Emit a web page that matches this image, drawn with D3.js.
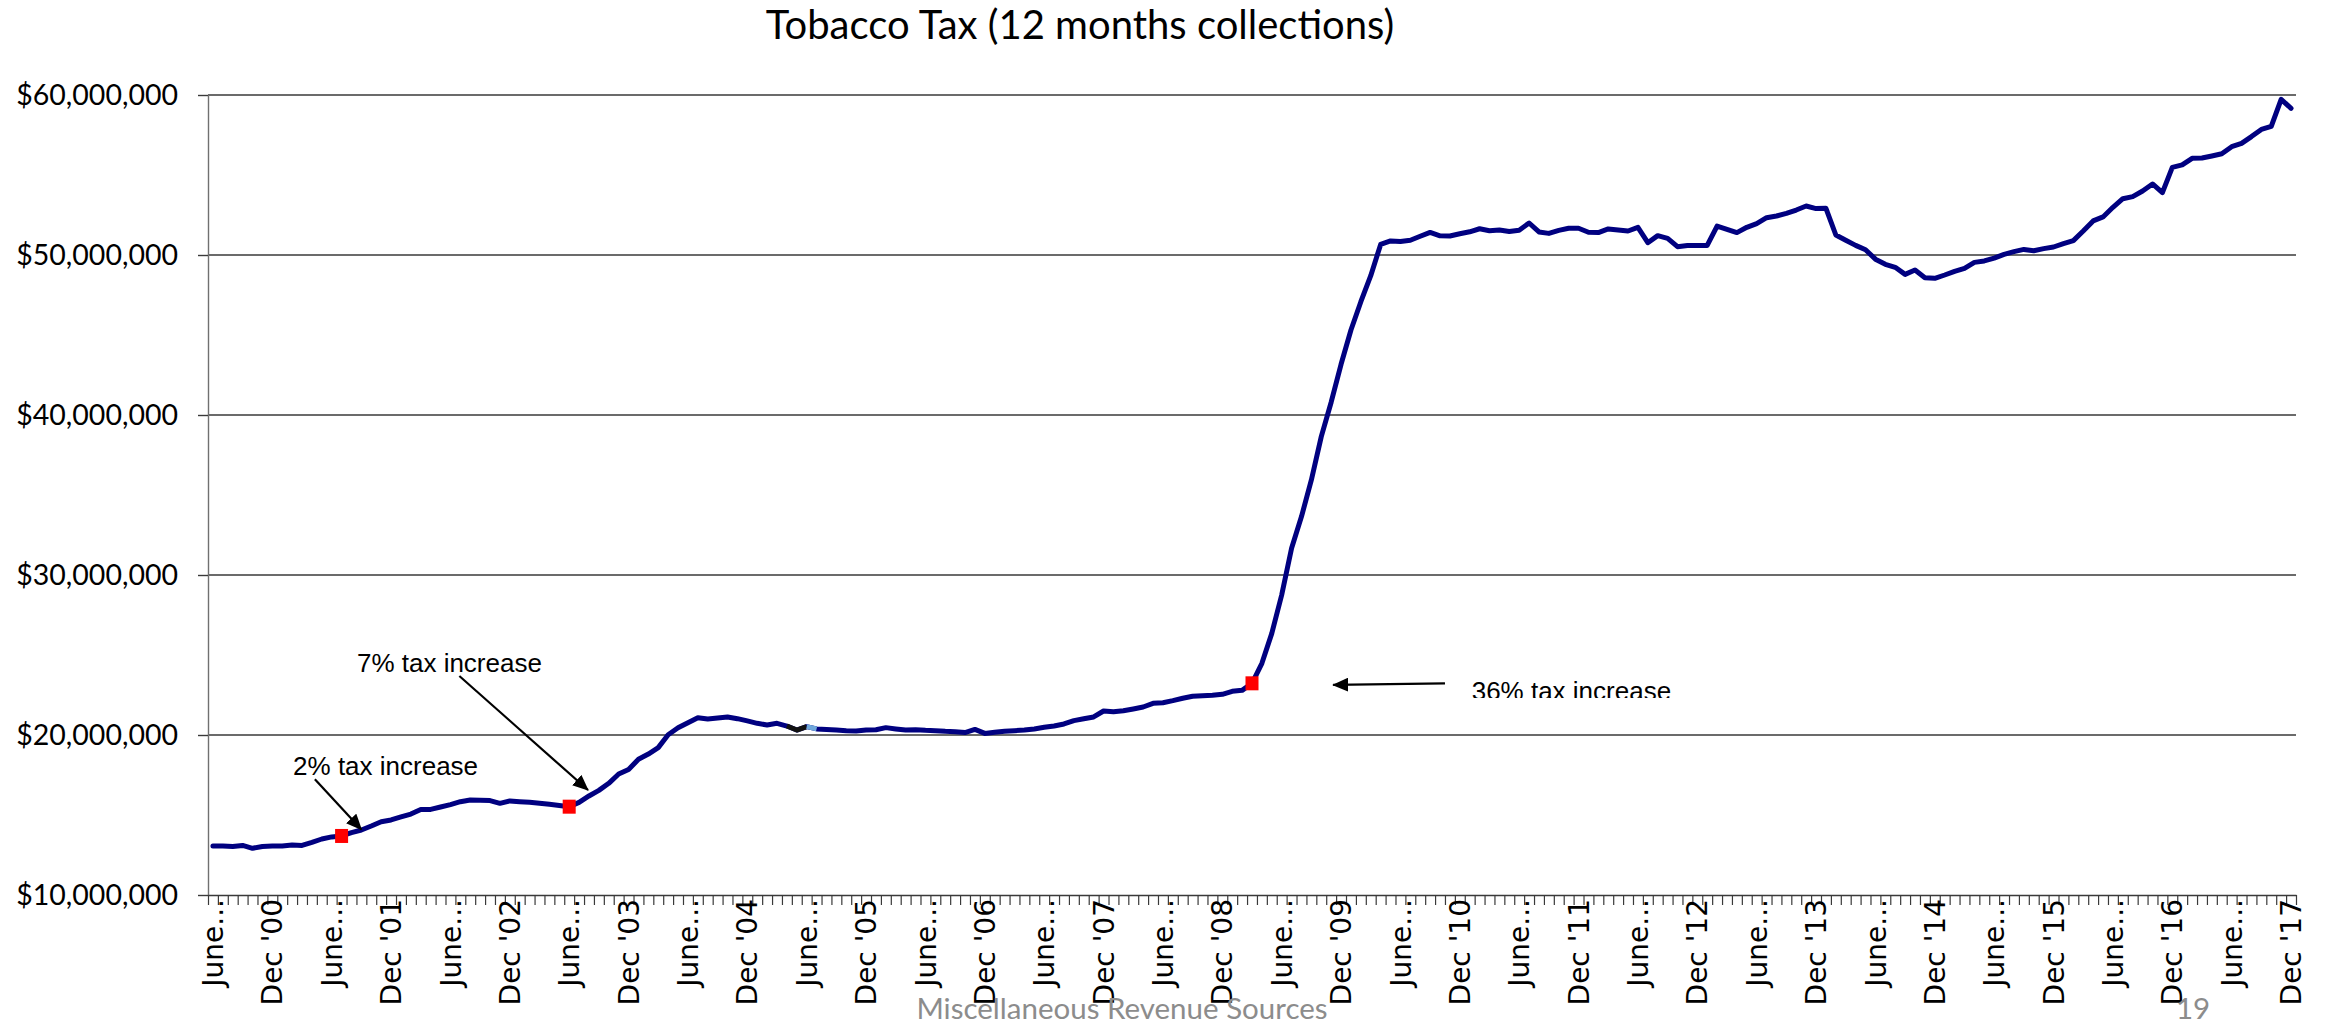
<!DOCTYPE html>
<html>
<head>
<meta charset="utf-8">
<script src="https://cdn.jsdelivr.net/npm/d3@7"></script>
<style>
  html, body { margin: 0; padding: 0; background: #fff; }
  svg { display: block; }
</style>
</head>
<body>
<svg id="chart" width="2331" height="1025"></svg>
<script>
// Monthly categories, June 2000 through December 2017
const months = d3.timeMonth
  .range(new Date(2000, 5, 1), new Date(2018, 0, 1))
  .map(d3.timeFormat("%Y-%m"));

// Trailing 12-month tobacco tax collections, in millions of dollars
const collections = [
  13.06, 13.06, 13.03, 13.10, 12.92, 13.03, 13.06, 13.06, 13.12, 13.10,
  13.29, 13.50, 13.63, 13.69, 13.90, 14.06, 14.31, 14.58, 14.69, 14.88,
  15.06, 15.35, 15.35, 15.50, 15.65, 15.83, 15.94, 15.92, 15.90, 15.73,
  15.88, 15.83, 15.79, 15.73, 15.67, 15.60, 15.52, 15.79, 16.19, 16.54,
  16.98, 17.56, 17.85, 18.48, 18.81, 19.21, 20.02, 20.45, 20.77, 21.08,
  21.00, 21.06, 21.13, 21.02, 20.88, 20.73, 20.63, 20.73, 20.56, 20.31,
  20.52, 20.38, 20.35, 20.31, 20.27, 20.25, 20.31, 20.33, 20.46, 20.38,
  20.31, 20.33, 20.29, 20.27, 20.23, 20.21, 20.15, 20.35, 20.10, 20.17,
  20.23, 20.27, 20.31, 20.38, 20.48, 20.56, 20.69, 20.90, 21.02, 21.13,
  21.50, 21.46, 21.52, 21.63, 21.75, 21.98, 22.02, 22.15, 22.30, 22.42,
  22.46, 22.48, 22.54, 22.73, 22.79, 23.23, 24.48, 26.35, 28.75, 31.67,
  33.65, 35.94, 38.65, 40.80, 43.17, 45.31, 47.08, 48.71, 50.66, 50.88,
  50.85, 50.92, 51.17, 51.41, 51.20, 51.19, 51.33, 51.45, 51.64, 51.52,
  51.56, 51.47, 51.55, 52.00, 51.44, 51.35, 51.54, 51.67, 51.67, 51.42,
  51.40, 51.63, 51.56, 51.50, 51.73, 50.77, 51.21, 51.04, 50.52, 50.60,
  50.60, 50.60, 51.81, 51.60, 51.40, 51.73, 51.96, 52.33, 52.44, 52.60,
  52.81, 53.06, 52.90, 52.92, 51.25, 50.92, 50.60, 50.33, 49.74, 49.42,
  49.23, 48.79, 49.06, 48.58, 48.54, 48.75, 48.98, 49.17, 49.54, 49.63,
  49.81, 50.04, 50.21, 50.35, 50.27, 50.40, 50.50, 50.71, 50.90, 51.50,
  52.13, 52.38, 52.98, 53.52, 53.65, 54.00, 54.44, 53.90, 55.48, 55.63,
  56.04, 56.06, 56.19, 56.33, 56.77, 56.98, 57.40, 57.85, 58.04, 59.73,
  59.17
];

// Category labels, one every six months starting with the first month
const tickLabels = [
  "June...", "Dec '00", "June...", "Dec '01", "June...", "Dec '02",
  "June...", "Dec '03", "June...", "Dec '04", "June...", "Dec '05",
  "June...", "Dec '06", "June...", "Dec '07", "June...", "Dec '08",
  "June...", "Dec '09", "June...", "Dec '10", "June...", "Dec '11",
  "June...", "Dec '12", "June...", "Dec '13", "June...", "Dec '14",
  "June...", "Dec '15", "June...", "Dec '16", "June...", "Dec '17"
];
const labelEvery = 6;

// Value axis ticks (millions)
const yTicks = [10, 20, 30, 40, 50, 60];

// Months in which a tax increase took effect
const taxIncreaseMonths = ["2001-07", "2003-06", "2009-03"];

// Callouts, placed in (month index, $ millions) coordinates
const notes = [
  { text: "2% tax increase", at: [8.1, 17.52], from: [10.3, 17.23], to: [15.0, 14.10] },
  { text: "7% tax increase", at: [14.55, 23.95], from: [24.9, 23.69], to: [37.9, 16.56] },
  { text: "36% tax increase", at: [127.2, 22.19], from: [124.5, 23.23], to: [113.2, 23.13], clipBelow: 22.31 }
];

// ---------------------------------------------------------------------------
const svg = d3.select("#chart");
const plot = { left: 208, right: 2296, top: 95, bottom: 895 };

const x = d3.scaleBand().domain(months).range([plot.left, plot.right]).padding(0);
const xEdge = d3.scaleLinear().domain([0, months.length]).range([plot.left, plot.right]);
const xAt = i => xEdge(i + 0.5);
const y = d3.scaleLinear().domain([10, 60]).range([plot.bottom, plot.top]);
const cx = m => x(m) + x.bandwidth() / 2;

// Title
svg.append("text")
  .attr("x", 1080).attr("y", 39)
  .attr("text-anchor", "middle")
  .style("font-family", "Lato, 'Open Sans', sans-serif")
  .style("font-size", "40px")
  .attr("fill", "#000")
  .text("Tobacco Tax (12 months collections)");

// Horizontal gridlines
svg.append("g")
  .selectAll("line")
  .data(yTicks.filter(v => v > 10))
  .join("line")
  .attr("x1", plot.left).attr("x2", plot.right)
  .attr("y1", d => y(d)).attr("y2", d => y(d))
  .attr("stroke", "#3a3a3a")
  .attr("stroke-width", 1.4);

// Value axis
const yAxis = svg.append("g")
  .attr("transform", `translate(${plot.left},0)`)
  .call(d3.axisLeft(y)
    .tickValues(yTicks)
    .tickSize(10)
    .tickSizeOuter(0)
    .tickPadding(20)
    .tickFormat(v => d3.format("$,")(v * 1e6)));
yAxis.select(".domain").attr("stroke", "#707070").attr("stroke-width", 1.4);
yAxis.selectAll(".tick line").attr("stroke", "#3a3a3a").attr("stroke-width", 1.4);
yAxis.selectAll(".tick text")
  .style("font-family", "Lato, 'Open Sans', sans-serif")
  .style("font-size", "28.5px")
  .attr("fill", "#000");

// Category axis: a tick mark at every month boundary
const xTicks = svg.append("g")
  .attr("transform", `translate(0,${plot.bottom})`)
  .call(d3.axisBottom(xEdge)
    .tickValues(d3.range(0, months.length + 1))
    .tickSize(10)
    .tickSizeOuter(0)
    .tickFormat(""));
xTicks.select(".domain").attr("stroke", "#3a3a3a").attr("stroke-width", 1.4);
xTicks.selectAll(".tick line").attr("stroke", "#3a3a3a").attr("stroke-width", 1.2);

// Category labels, rotated
const labelMonths = months.filter((m, i) => i % labelEvery === 0);
const xLabels = svg.append("g")
  .attr("transform", `translate(0,${plot.bottom})`)
  .call(d3.axisBottom(x)
    .tickValues(labelMonths)
    .tickSize(0)
    .tickFormat((m, i) => tickLabels[i]));
xLabels.select(".domain").remove();
xLabels.selectAll(".tick text")
  .attr("transform", "rotate(-90)")
  .attr("text-anchor", "end")
  .attr("x", -4)
  .attr("y", 0)
  .attr("dy", "0.36em")
  .style("font-family", "'DejaVu Sans', Verdana, sans-serif")
  .style("font-size", "28px")
  .attr("fill", "#000");

// Collections line
const line = d3.line()
  .x((d, i) => cx(months[i]))
  .y(d => y(d));

svg.append("path")
  .datum(collections)
  .attr("fill", "none")
  .attr("stroke", "#000080")
  .attr("stroke-width", 5)
  .attr("stroke-linejoin", "round")
  .attr("stroke-linecap", "round")
  .attr("d", line);

// Two short segments drawn in other colours
const segLine = d3.line().x(d => cx(months[d])).y(d => y(collections[d]));
svg.append("path")
  .datum([58, 59, 60])
  .attr("fill", "none")
  .attr("stroke", "#111")
  .attr("stroke-width", 5)
  .attr("stroke-linejoin", "round")
  .attr("d", segLine);
svg.append("path")
  .datum([60, 61])
  .attr("fill", "none")
  .attr("stroke", "#6fa8dc")
  .attr("stroke-width", 5)
  .attr("d", segLine);

// Tax increase markers
svg.append("g")
  .selectAll("rect")
  .data(taxIncreaseMonths)
  .join("rect")
  .attr("x", m => cx(m) - 6.5)
  .attr("y", m => y(collections[months.indexOf(m)]) - 7)
  .attr("width", 13)
  .attr("height", 14)
  .attr("fill", "#ff0000");

// Callouts
const defs = svg.append("defs");
defs.append("marker")
  .attr("id", "arrowhead")
  .attr("viewBox", "0 0 16 14")
  .attr("refX", 15).attr("refY", 7)
  .attr("markerWidth", 16).attr("markerHeight", 14)
  .attr("markerUnits", "userSpaceOnUse")
  .attr("orient", "auto")
  .append("path")
  .attr("d", "M0,0 L16,7 L0,14 Z")
  .attr("fill", "#000");

notes.forEach((n, k) => {
  svg.append("line")
    .attr("x1", xAt(n.from[0])).attr("y1", y(n.from[1]))
    .attr("x2", xAt(n.to[0])).attr("y2", y(n.to[1]))
    .attr("stroke", "#000")
    .attr("stroke-width", 2.2)
    .attr("marker-end", "url(#arrowhead)");

  const t = svg.append("text")
    .attr("x", xAt(n.at[0])).attr("y", y(n.at[1]))
    .style("font-family", "'Liberation Sans', Arial, sans-serif")
    .style("font-size", "26px")
    .attr("fill", "#000")
    .text(n.text);

  if (n.clipBelow !== undefined) {
    const id = "noteclip" + k;
    defs.append("clipPath").attr("id", id)
      .append("rect")
      .attr("x", 0).attr("y", 0)
      .attr("width", 2331).attr("height", y(n.clipBelow));
    t.attr("clip-path", `url(#${id})`);
  }
});

// Footer
svg.append("text")
  .attr("x", 1122).attr("y", 1019)
  .attr("text-anchor", "middle")
  .style("font-family", "Lato, 'Open Sans', sans-serif")
  .style("font-size", "29.5px")
  .attr("fill", "#8c8c8c")
  .text("Miscellaneous Revenue Sources");

svg.append("text")
  .attr("x", 2193).attr("y", 1019)
  .attr("text-anchor", "middle")
  .style("font-family", "Lato, 'Open Sans', sans-serif")
  .style("font-size", "29.5px")
  .attr("fill", "#8c8c8c")
  .text("19");
</script>
</body>
</html>
